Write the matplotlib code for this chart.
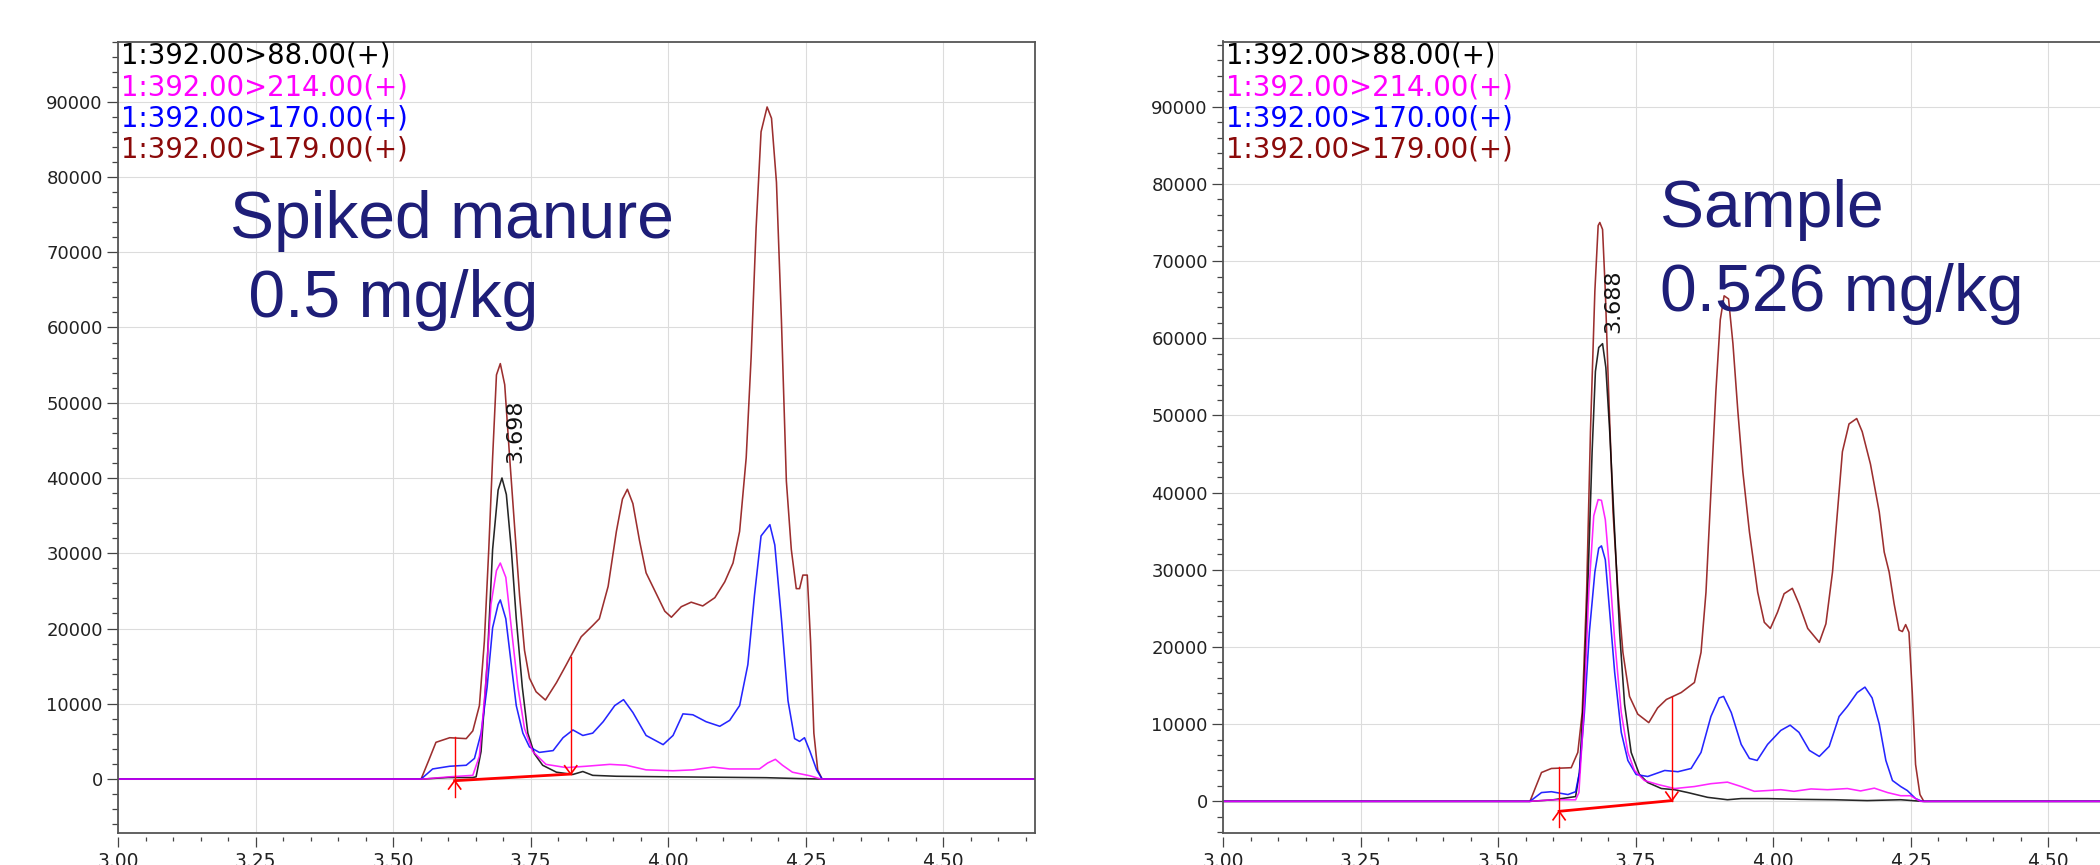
import numpy as np
import matplotlib.pyplot as plt
from matplotlib.ticker import MultipleLocator, FormatStrFormatter

# transitions (same order in both panels)
labels = ['1:392.00>88.00(+)', '1:392.00>214.00(+)', '1:392.00>170.00(+)', '1:392.00>179.00(+)']
colors = ['#000000', '#ff00ff', '#0000ff', '#8b0a0a']
draw_order = [3, 0, 2, 1]  # brown underneath, magenta on top

# ---- spiked manure 0.5 mg/kg (left) ----
spk_t_88 = [3.00, 3.555, 3.60, 3.645, 3.651, 3.660, 3.671, 3.681, 3.691, 3.698, 3.706, 3.715, 3.724,
            3.735, 3.745, 3.757, 3.772, 3.797, 3.827, 3.845, 3.863, 3.906, 3.997, 4.088, 4.178, 4.239,
            4.28, 4.67]
spk_i_88 = [0, 0, 200, 200, 300, 3660, 15200, 30500, 38400, 40000, 37800, 30500, 21300,
            12200, 6100, 3350, 1830, 910, 610, 1000, 490, 370, 300, 240, 180, 60,
            0, 0]

spk_t_214 = [3.00, 3.555, 3.603, 3.645, 3.657, 3.668, 3.678, 3.688, 3.695, 3.705, 3.715, 3.727, 3.739,
             3.754, 3.778, 3.815, 3.851, 3.894, 3.924, 3.960, 4.009, 4.045, 4.082, 4.112, 4.166, 4.181,
             4.195, 4.208, 4.226, 4.258, 4.278, 4.67]
spk_i_214 = [0, 0, 300, 490, 3050, 12200, 23200, 27700, 28700, 26800, 20100, 12200, 6700,
             3660, 1950, 1520, 1700, 1950, 1830, 1220, 1100, 1220, 1590, 1340, 1340, 2130,
             2620, 1830, 910, 430, 0, 0]

spk_t_170 = [3.00, 3.551, 3.572, 3.603, 3.633, 3.648, 3.660, 3.671, 3.681, 3.691, 3.695, 3.705, 3.715,
             3.724, 3.736, 3.748, 3.766, 3.791, 3.809, 3.827, 3.845, 3.863, 3.882, 3.903, 3.919, 3.936,
             3.960, 3.991, 4.009, 4.027, 4.045, 4.069, 4.094, 4.112, 4.130, 4.145, 4.157, 4.169, 4.185,
             4.194, 4.206, 4.218, 4.230, 4.239, 4.248, 4.258, 4.270, 4.280, 4.67]
spk_i_170 = [0, 0, 1340, 1700, 1830, 2740, 6100, 12200, 20100, 23200, 23800, 21300, 15200,
             9760, 6100, 4270, 3540, 3780, 5490, 6520, 5790, 6100, 7620, 9760, 10550, 8840,
             5790, 4570, 5790, 8660, 8540, 7620, 7010, 7800, 9760, 15200, 24400, 32300, 33800,
             31100, 21300, 10400, 5370, 5000, 5490, 3660, 1220, 0, 0]

spk_t_179 = [3.00, 3.551, 3.565, 3.578, 3.603, 3.633, 3.645, 3.657, 3.666, 3.674, 3.681, 3.688, 3.695,
             3.703, 3.712, 3.721, 3.730, 3.739, 3.748, 3.760, 3.777, 3.797, 3.815, 3.842, 3.863, 3.875,
             3.891, 3.906, 3.917, 3.926, 3.936, 3.948, 3.960, 3.978, 3.994, 4.006, 4.024, 4.042, 4.063,
             4.085, 4.103, 4.118, 4.130, 4.142, 4.151, 4.160, 4.169, 4.180, 4.188, 4.197, 4.206, 4.215,
             4.224, 4.233, 4.239, 4.245, 4.253, 4.259, 4.265, 4.272, 4.280, 4.67]
spk_i_179 = [0, 0, 2500, 4880, 5490, 5370, 6400, 9760, 18300, 30500, 42700, 53700, 55200,
             52400, 42700, 33500, 24400, 17100, 13400, 11600, 10500, 12800, 15200, 18900, 20400, 21300,
             25600, 32900, 37200, 38500, 36600, 31700, 27400, 24700, 22300, 21500, 22900, 23500, 23000,
             24100, 26200, 28700, 32900, 42700, 56100, 73200, 86000, 89300, 87800, 79300, 61000, 39600,
             30500, 25300, 25300, 27100, 27100, 18300, 6100, 1200, 0, 0]

# ---- sample 0.526 mg/kg (right) ----
smp_t_88 = [3.00, 3.558, 3.60, 3.641, 3.648, 3.656, 3.664, 3.671, 3.677, 3.683, 3.690, 3.696, 3.703,
            3.712, 3.721, 3.730, 3.742, 3.757, 3.772, 3.797, 3.821, 3.845, 3.881, 3.917, 3.942, 3.990,
            4.050, 4.111, 4.171, 4.232, 4.262, 4.274, 4.67]
smp_i_88 = [0, 0, 200, 620, 3740, 14100, 29700, 45300, 55700, 58800, 59300, 56200, 47900,
            34900, 21900, 12600, 6340, 3480, 2440, 1660, 1510, 1140, 520, 210, 360, 360,
            260, 210, 100, 210, 50, 0, 0]

smp_t_214 = [3.00, 3.558, 3.60, 3.641, 3.647, 3.656, 3.665, 3.674, 3.682, 3.688, 3.695, 3.703, 3.712,
             3.724, 3.736, 3.748, 3.766, 3.791, 3.821, 3.857, 3.887, 3.917, 3.942, 3.966, 3.990, 4.014,
             4.038, 4.069, 4.099, 4.135, 4.159, 4.184, 4.208, 4.232, 4.250, 4.268, 4.67]
smp_i_214 = [0, 0, 200, 200, 1140, 11500, 27100, 37000, 39100, 39000, 36500, 29700, 20900,
             11500, 6340, 4000, 2700, 2180, 1660, 1920, 2290, 2490, 1920, 1300, 1400, 1510,
             1300, 1610, 1510, 1660, 1350, 1710, 1140, 730, 730, 0, 0]

smp_t_170 = [3.00, 3.558, 3.579, 3.597, 3.627, 3.641, 3.648, 3.657, 3.666, 3.676, 3.683, 3.688, 3.695,
             3.703, 3.712, 3.724, 3.736, 3.751, 3.772, 3.803, 3.827, 3.851, 3.869, 3.887, 3.902, 3.910,
             3.924, 3.942, 3.957, 3.971, 3.990, 4.014, 4.031, 4.047, 4.066, 4.084, 4.102, 4.120, 4.135,
             4.153, 4.167, 4.180, 4.193, 4.205, 4.217, 4.232, 4.244, 4.259, 4.271, 4.67]
smp_i_170 = [0, 0, 1140, 1250, 880, 1250, 3740, 11500, 21900, 29700, 32800, 33100, 31300,
             24500, 16700, 8940, 5300, 3480, 3220, 4000, 3840, 4260, 6340, 11000, 13400, 13600,
             11500, 7380, 5560, 5300, 7380, 9190, 9870, 8940, 6600, 5820, 7120, 11000, 12300,
             14100, 14800, 13400, 10000, 5300, 2700, 1920, 1400, 360, 0, 0]

smp_t_179 = [3.00, 3.558, 3.579, 3.597, 3.633, 3.645, 3.653, 3.661, 3.668, 3.676, 3.682, 3.685, 3.690,
             3.695, 3.701, 3.709, 3.718, 3.727, 3.739, 3.754, 3.774, 3.790, 3.806, 3.833, 3.857, 3.869,
             3.878, 3.887, 3.896, 3.904, 3.911, 3.919, 3.927, 3.936, 3.945, 3.957, 3.972, 3.984, 3.995,
             4.008, 4.020, 4.035, 4.047, 4.063, 4.084, 4.096, 4.108, 4.117, 4.126, 4.138, 4.152, 4.162,
             4.177, 4.193, 4.202, 4.211, 4.220, 4.229, 4.235, 4.241, 4.247, 4.253, 4.259, 4.267, 4.274,
             4.67]
smp_i_179 = [0, 0, 3740, 4260, 4360, 6340, 11500, 27100, 47900, 66100, 74600, 75000, 74100,
             66100, 53100, 37500, 27100, 19300, 13600, 11300, 10200, 12100, 13200, 14100, 15400, 19300,
             27100, 40100, 53100, 62400, 65500, 65100, 59300, 50500, 42700, 34900, 27100, 23200, 22400,
             24500, 26900, 27600, 25600, 22400, 20600, 23000, 29700, 37500, 45300, 48900, 49600, 47900,
             43700, 37500, 32300, 29700, 25600, 22200, 22000, 22900, 21900, 14100, 4780, 880, 0,
             0]

# integration marks: baseline start/end, and the drop lines
spk_base_t = [3.612, 3.823]
spk_base_i = [-220, 660]
spk_drop_top = [5530, 16150]
spk_drop_bot = [-2345, 660]
smp_base_t = [3.611, 3.816]
smp_base_i = [-1290, 100]
smp_drop_top = [4400, 13530]
smp_drop_bot = [-3280, 100]

# peak retention time labels
spk_rt, spk_rt_pos = '3.698', (3.723, 42000)
smp_rt, smp_rt_pos = '3.688', (3.709, 60700)

W, H = 2100, 865
fig = plt.figure(figsize=(W / 100, H / 100), dpi=100)
ax_l = fig.add_axes([118 / W, 1 - 833 / H, 917 / W, 791.5 / H])
ax_r = fig.add_axes([1223 / W, 1 - 833 / H, 917 / W, 791.5 / H])

spine_c = '#555555'


def style_axes(ax, ylim):
    ax.set_xlim(3.0, 4.667)
    ax.set_ylim(*ylim)
    ax.xaxis.set_major_locator(MultipleLocator(0.25))
    ax.xaxis.set_minor_locator(MultipleLocator(0.05))
    ax.yaxis.set_major_locator(MultipleLocator(10000))
    ax.yaxis.set_minor_locator(MultipleLocator(2000))
    ax.xaxis.set_major_formatter(FormatStrFormatter('%.2f'))
    ax.grid(True, which='major', color='#dcdcdc', lw=0.8)
    ax.set_axisbelow(True)
    ax.tick_params(which='both', direction='out', color='#444444', width=0.9, labelcolor='#222222')
    ax.tick_params(axis='y', which='major', length=8, pad=3, labelsize=13)
    ax.tick_params(axis='y', which='minor', length=4)
    ax.tick_params(axis='x', which='major', length=7, pad=4, labelsize=13.5)
    ax.tick_params(axis='x', which='minor', length=3.2)
    for s in ['left', 'top', 'right']:
        ax.spines[s].set_color(spine_c)
        ax.spines[s].set_linewidth(1.3)
    # ticks sit a little below the frame
    ax.spines['bottom'].set_position(('outward', 3))
    ax.spines['bottom'].set_color('none')
    ax.plot([0, 1], [0, 0], transform=ax.transAxes, color=spine_c, lw=1.3, clip_on=False)


def draw_panel(ax, traces, base_t, base_i, drop_top, drop_bot, rt, rt_pos):
    for k in draw_order:
        t, v = traces[k]
        ax.plot(t, v, color=colors[k], lw=1.15, alpha=0.85, solid_joinstyle='round')
    red = '#ff0000'
    ax.plot(base_t, base_i, color=red, lw=2.0)
    for x, y0, y1 in zip(base_t, drop_bot, drop_top):
        ax.plot([x, x], [y0, y1], color=red, lw=1.0)
    dx, dy = 0.011, 1100
    # up chevron at start, down chevron at end
    ax.plot([base_t[0] - dx, base_t[0], base_t[0] + dx],
            [base_i[0] - dy, base_i[0], base_i[0] - dy], color=red, lw=1.2)
    ax.plot([base_t[1] - dx, base_t[1], base_t[1] + dx],
            [base_i[1] + dy, base_i[1], base_i[1] + dy], color=red, lw=1.2)
    ax.text(rt_pos[0], rt_pos[1], rt, rotation=90, ha='center', va='bottom',
            fontsize=16, color='#111111')
    for k, (lab, c) in enumerate(zip(labels, colors)):
        ax.text(0.003, 0.9817 - 0.0395 * k, lab, transform=ax.transAxes, color=c,
                ha='left', va='center', fontsize=19.8, family='DejaVu Sans')


style_axes(ax_l, (-7170, 98000))
style_axes(ax_r, (-4100, 98450))

draw_panel(ax_l, [(spk_t_88, spk_i_88), (spk_t_214, spk_i_214), (spk_t_170, spk_i_170), (spk_t_179, spk_i_179)],
           spk_base_t, spk_base_i, spk_drop_top, spk_drop_bot, spk_rt, spk_rt_pos)
draw_panel(ax_r, [(smp_t_88, smp_i_88), (smp_t_214, smp_i_214), (smp_t_170, smp_i_170), (smp_t_179, smp_i_179)],
           smp_base_t, smp_base_i, smp_drop_top, smp_drop_bot, smp_rt, smp_rt_pos)

navy = '#1e1e78'
ax_l.text(0.122, 0.813, 'Spiked manure\n 0.5 mg/kg', transform=ax_l.transAxes, color=navy,
          ha='left', va='top', fontsize=47.5, family='Liberation Sans', linespacing=1.36)
ax_r.text(0.4766, 0.826, 'Sample\n0.526 mg/kg', transform=ax_r.transAxes, color=navy,
          ha='left', va='top', fontsize=47.5, family='Liberation Sans', linespacing=1.45)

fig.savefig('out.png', dpi=100)
